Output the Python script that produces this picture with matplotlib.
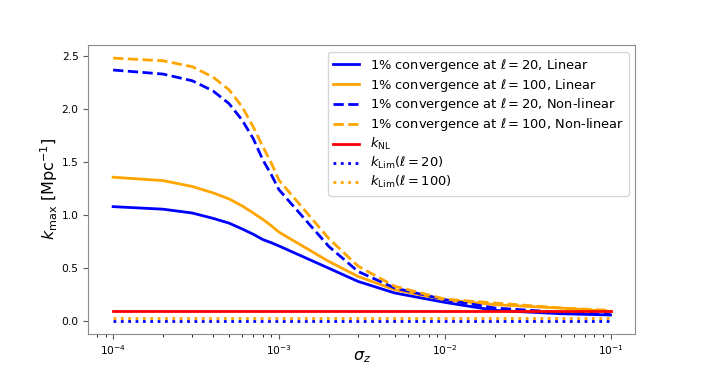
import numpy as np
import matplotlib
matplotlib.use("Agg")
import matplotlib.pyplot as plt

sigma_z = [1e-4, 2e-4, 3e-4, 4e-4, 5e-4, 6e-4, 7e-4, 8e-4, 9e-4, 1e-3,
           2e-3, 3e-3, 5e-3, 1e-2, 2e-2, 5e-2, 1e-1]

lin_20 = [1.08, 1.056, 1.02, 0.97, 0.925, 0.87, 0.82, 0.77, 0.74, 0.71,
          0.50, 0.376, 0.267, 0.179, 0.104, 0.072, 0.06]
lin_100 = [1.357, 1.325, 1.27, 1.21, 1.153, 1.087, 1.02, 0.96, 0.90, 0.84,
           0.564, 0.423, 0.298, 0.204, 0.157, 0.125, 0.094]
nl_20 = [2.366, 2.328, 2.265, 2.17, 2.05, 1.895, 1.72, 1.52, 1.38, 1.24,
         0.705, 0.47, 0.314, 0.204, 0.126, 0.085, 0.066]
nl_100 = [2.478, 2.453, 2.397, 2.30, 2.18, 2.02, 1.83, 1.645, 1.49, 1.33,
          0.78, 0.52, 0.33, 0.21, 0.173, 0.126, 0.103]

k_NL = 0.10
k_lim_20 = 0.007
k_lim_100 = 0.035

fig = plt.figure(figsize=(7.06, 3.75), dpi=100)
ax = fig.add_subplot(111)
lw = 2.0
x = np.array(sigma_z)
ax.plot(x, lin_20, color='blue', lw=lw, label=r'1% convergence at $\ell = 20$, Linear')
ax.plot(x, lin_100, color='orange', lw=lw, label=r'1% convergence at $\ell = 100$, Linear')
ax.plot(x, nl_20, color='blue', lw=lw, ls='--', label=r'1% convergence at $\ell = 20$, Non-linear')
ax.plot(x, nl_100, color='orange', lw=lw, ls='--', label=r'1% convergence at $\ell = 100$, Non-linear')
ax.plot(x, np.full(len(x), k_NL), color='red', lw=lw, label=r'$k_{\rm NL}$')
ax.plot(x, np.full(len(x), k_lim_20), color='blue', lw=lw, ls=':', label=r'$k_{\rm Lim}(\ell = 20)$')
ax.plot(x, np.full(len(x), k_lim_100), color='orange', lw=lw, ls=':', label=r'$k_{\rm Lim}(\ell = 100)$')
ax.set_xscale('log')
ax.set_xlabel(r'$\sigma_z$', fontsize=11.5, labelpad=-6)
ax.set_ylabel(r'$k_{\rm max}$ [Mpc$^{-1}$]', fontsize=11.5, labelpad=1)
ax.tick_params(labelsize=7.7, colors='0.35', labelcolor='black')
for sp in ax.spines.values():
    sp.set_color('0.55')
ax.legend(fontsize=9.4, loc='upper right', labelspacing=0.22)
fig.subplots_adjust(left=0.125, right=0.9, bottom=0.11, top=0.88)
fig.savefig('out.png', dpi=100)
